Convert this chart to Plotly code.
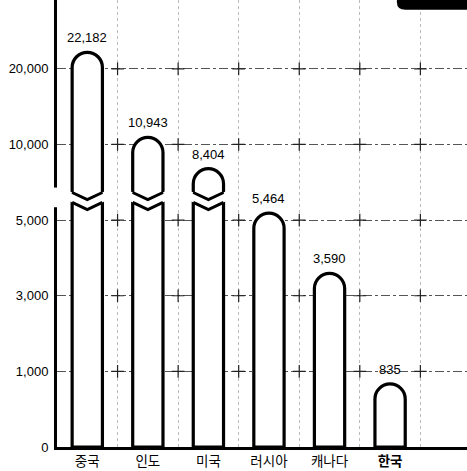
import plotly.graph_objects as go

# ---- data ----
categories = ["중국", "인도", "미국", "러시아", "캐나다", "한국"]
tick_labels = ["중국", "인도", "미국", "러시아", "캐나다", "<b>한국</b>"]
values = [22182, 10943, 8404, 5464, 3590, 835]
value_labels = ["22,182", "10,943", "8,404", "5,464", "3,590", "835"]
y_tick_values = [0, 1000, 3000, 5000, 10000, 20000]
y_tick_text = ["0", "1,000", "3,000", "5,000", "10,000", "20,000"]
break_value = 6500  # axis break (broken bars) drawn at this value


def to_axis(v):
    """Piecewise-linear scale: the tick values are evenly spaced."""
    tv = y_tick_values
    for i in range(len(tv) - 1):
        if v <= tv[i + 1]:
            return i + (v - tv[i]) / (tv[i + 1] - tv[i])
    i = len(tv) - 2
    return i + (v - tv[i]) / (tv[i + 1] - tv[i])


x_pos = list(range(len(categories)))
y_axis_vals = [to_axis(v) for v in values]
y_tick_pos = [to_axis(v) for v in y_tick_values]

Y_MAX = 5.91
X_RANGE = [-0.5, 6.27]
BAR_W = 0.5
FONT_NUM = "Liberation Sans, Arial, sans-serif"
FONT_KR = "Noto Sans CJK KR, sans-serif"

fig = go.Figure()

# grid crosses (decorative "+" at grid intersections)
cx, cy = [], []
for gx in [p + 0.5 for p in x_pos]:
    for gy in y_tick_pos[1:]:
        cx.append(gx)
        cy.append(gy)
fig.add_trace(go.Scatter(
    x=cx, y=cy, mode="markers", hoverinfo="skip", showlegend=False,
    marker=dict(symbol="cross-thin", size=9, line=dict(width=1.2, color="#222")),
))

fig.add_trace(go.Bar(
    x=x_pos, y=y_axis_vals, width=BAR_W,
    marker=dict(color="white", line=dict(color="black", width=3.2), cornerradius="50%"),
    showlegend=False, hoverinfo="skip",
))

annotations = []
for xi, yv, lab in zip(x_pos, y_axis_vals, value_labels):
    annotations.append(dict(
        x=xi, y=yv, xref="x", yref="y", text=lab, showarrow=False,
        yanchor="bottom", yshift=5,
        font=dict(family=FONT_NUM, size=13, color="black"),
    ))

shapes = []
# broken bars
yb = to_axis(break_value)
gap = 0.13
dip = 0.095
for xi, v in zip(x_pos, values):
    if v <= break_value:
        continue
    t = yb + gap / 2
    b = yb - gap / 2
    e = 0.3
    hw = BAR_W / 2
    shapes.append(dict(
        type="path", xref="x", yref="y", layer="above",
        path=(f"M {xi - e} {t + dip * (e - hw) / hw} L {xi} {t - dip} L {xi + e} {t + dip * (e - hw) / hw} "
              f"L {xi + e} {b + dip * (e - hw) / hw} L {xi} {b - dip} L {xi - e} {b + dip * (e - hw) / hw} Z"),
        fillcolor="white", line=dict(width=0),
    ))
    for yy in (t, b):
        shapes.append(dict(
            type="path", xref="x", yref="y", layer="above",
            path=f"M {xi - hw} {yy} L {xi} {yy - dip} L {xi + hw} {yy}",
            line=dict(color="black", width=3),
        ))

# break in the y axis line
py = yb / Y_MAX
shapes.append(dict(
    type="rect", xref="paper", yref="paper", layer="above",
    x0=-0.02, x1=0.006, y0=py - 0.022, y1=py + 0.022,
    fillcolor="white", line=dict(width=0),
))

# black tab in the top-right corner
shapes.append(dict(
    type="path", xref="paper", yref="paper", layer="above",
    path="M 0.829 1.01 L 0.829 0.995 Q 0.829 0.978 0.85 0.978 L 1.01 0.978 L 1.01 1.01 Z",
    fillcolor="black", line=dict(width=0),
))

fig.update_layout(
    width=467, height=471, autosize=False,
    margin=dict(l=57, r=0, t=0, b=24),
    paper_bgcolor="white", plot_bgcolor="white",
    shapes=shapes, annotations=annotations, bargap=0.5,
    xaxis=dict(
        range=X_RANGE, tickvals=x_pos, ticktext=tick_labels,
        tickfont=dict(family=FONT_KR, size=13.5, color="black"),
        showline=True, linecolor="black", linewidth=3,
        showgrid=False, zeroline=False, ticks="", ticklabelstandoff=0,
        minor=dict(tick0=0.5, dtick=1, showgrid=True, gridcolor="#bbb",
                   griddash="dot", gridwidth=1, ticks=""),
        fixedrange=True,
    ),
    yaxis=dict(
        range=[0, Y_MAX], tickvals=y_tick_pos, ticktext=y_tick_text,
        tickfont=dict(family=FONT_NUM, size=13, color="black"),
        showline=True, linecolor="black", linewidth=3,
        showgrid=True, gridcolor="#555", griddash="dashdot", gridwidth=1,
        zeroline=False, ticks="", ticklabelstandoff=3,
        fixedrange=True,
    ),
)

fig.write_html(
    "out.html",
    config={"displayModeBar": False},
    post_script="document.body.style.margin='0px';document.body.style.overflow='hidden';",
)
